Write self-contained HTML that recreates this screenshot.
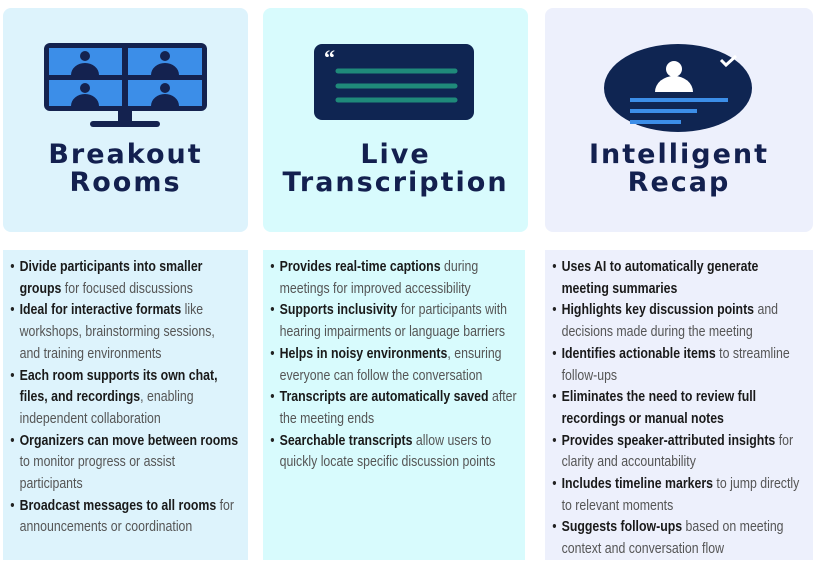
<!DOCTYPE html>
<html><head><meta charset="utf-8"><style>
body{margin:0;width:818px;height:563px;background:#fff;position:relative;overflow:hidden;font-family:"Liberation Sans",sans-serif}
.card{position:absolute;border-radius:8px}
.t{position:absolute;width:100%;text-align:center;font-family:"DejaVu Sans",sans-serif;font-size:27px;color:#13204f;line-height:28px;font-weight:bold;letter-spacing:2px}
.box{position:absolute;top:250px;height:310px}
ul{margin:0;padding:0;list-style:none;position:absolute;top:7px;left:3px;transform:scaleX(0.85);transform-origin:0 0}
li{position:relative;padding-left:16px;font-size:14.5px;line-height:21.7px;color:#555;white-space:nowrap}
li:before{content:"•";position:absolute;left:5px;color:#222}
li.c:before{content:""}
b{color:#1a1a1a}
</style></head><body>
<div class="card" style="left:3px;top:8px;width:245px;height:224px;background:#ddf3fc">
<svg style="position:absolute;left:40px;top:34px" width="165" height="90">
<rect x="1" y="1" width="163" height="68" rx="6" fill="#14224f"/>
<g fill="#3c8ee8"><rect x="6" y="6" width="73" height="27"/><rect x="85" y="6" width="74" height="27"/><rect x="6" y="38" width="73" height="26"/><rect x="85" y="38" width="74" height="26"/></g>
<g fill="#14224f">
<circle cx="42" cy="14" r="5"/><path d="M28 33 a14 12 0 0 1 28 0z"/>
<circle cx="122" cy="14" r="5"/><path d="M108 33 a14 12 0 0 1 28 0z"/>
<circle cx="42" cy="46" r="5"/><path d="M28 64 a14 12 0 0 1 28 0z"/>
<circle cx="122" cy="46" r="5"/><path d="M108 64 a14 12 0 0 1 28 0z"/>
<rect x="75" y="69" width="14" height="11"/><rect x="47" y="79" width="70" height="6" rx="3"/></g>
</svg>
<div class="t" style="top:133px">Breakout<br>Rooms</div>
</div>
<div class="card" style="left:263px;top:8px;width:265px;height:224px;background:#d8fbfd">
<svg style="position:absolute;left:50px;top:35px" width="162" height="82">
<rect x="1" y="1" width="160" height="76" rx="8" fill="#0f2552"/>
<text x="11" y="22" font-family="Liberation Serif" font-weight="bold" font-size="22" fill="#fff">“</text>
<g stroke="#1f8a7a" stroke-width="5" stroke-linecap="round"><line x1="25" y1="28" x2="142" y2="28"/><line x1="25" y1="43" x2="142" y2="43"/><line x1="25" y1="57" x2="142" y2="57"/></g>
</svg>
<div class="t" style="top:133px">Live<br>Transcription</div>
</div>
<div class="card" style="left:545px;top:8px;width:268px;height:224px;background:#edf0fc">
<svg style="position:absolute;left:58px;top:28px" width="150" height="100">
<ellipse cx="75" cy="52" rx="74" ry="44" fill="#0f2552"/>
<circle cx="71" cy="33" r="8" fill="#fff"/><path d="M52 56 a19 16 0 0 1 38 0z" fill="#fff"/>
<path d="M118 24 l5 5 l10 -9" stroke="#fff" stroke-width="3" fill="none"/>
<g stroke="#3c8ee8" stroke-width="4"><line x1="27" y1="64" x2="125" y2="64"/><line x1="27" y1="75" x2="94" y2="75"/><line x1="27" y1="86" x2="78" y2="86"/></g>
</svg>
<div class="t" style="top:133px">Intelligent<br>Recap</div>
</div>

<div class="box" style="left:3px;width:245px;background:#ddf3fc"><ul>
<li><b>Divide participants into smaller</b></li>
<li class="c"><b>groups</b> for focused discussions</li>
<li><b>Ideal for interactive formats</b> like</li>
<li class="c">workshops, brainstorming sessions,</li>
<li class="c">and training environments</li>
<li><b>Each room supports its own chat,</b></li>
<li class="c"><b>files, and recordings</b>, enabling</li>
<li class="c">independent collaboration</li>
<li><b>Organizers can move between rooms</b></li>
<li class="c">to monitor progress or assist</li>
<li class="c">participants</li>
<li><b>Broadcast messages to all rooms</b> for</li>
<li class="c">announcements or coordination</li>
</ul></div>
<div class="box" style="left:263px;width:262px;background:#d8fbfd"><ul>
<li><b>Provides real-time captions</b> during</li>
<li class="c">meetings for improved accessibility</li>
<li><b>Supports inclusivity</b> for participants with</li>
<li class="c">hearing impairments or language barriers</li>
<li><b>Helps in noisy environments</b>, ensuring</li>
<li class="c">everyone can follow the conversation</li>
<li><b>Transcripts are automatically saved</b> after</li>
<li class="c">the meeting ends</li>
<li><b>Searchable transcripts</b> allow users to</li>
<li class="c">quickly locate specific discussion points</li>
</ul></div>
<div class="box" style="left:545px;width:268px;background:#edf0fc"><ul>
<li><b>Uses AI to automatically generate</b></li>
<li class="c"><b>meeting summaries</b></li>
<li><b>Highlights key discussion points</b> and</li>
<li class="c">decisions made during the meeting</li>
<li><b>Identifies actionable items</b> to streamline</li>
<li class="c">follow-ups</li>
<li><b>Eliminates the need to review full</b></li>
<li class="c"><b>recordings or manual notes</b></li>
<li><b>Provides speaker-attributed insights</b> for</li>
<li class="c">clarity and accountability</li>
<li><b>Includes timeline markers</b> to jump directly</li>
<li class="c">to relevant moments</li>
<li><b>Suggests follow-ups</b> based on meeting</li>
<li class="c">context and conversation flow</li>
</ul></div>
</body></html>
